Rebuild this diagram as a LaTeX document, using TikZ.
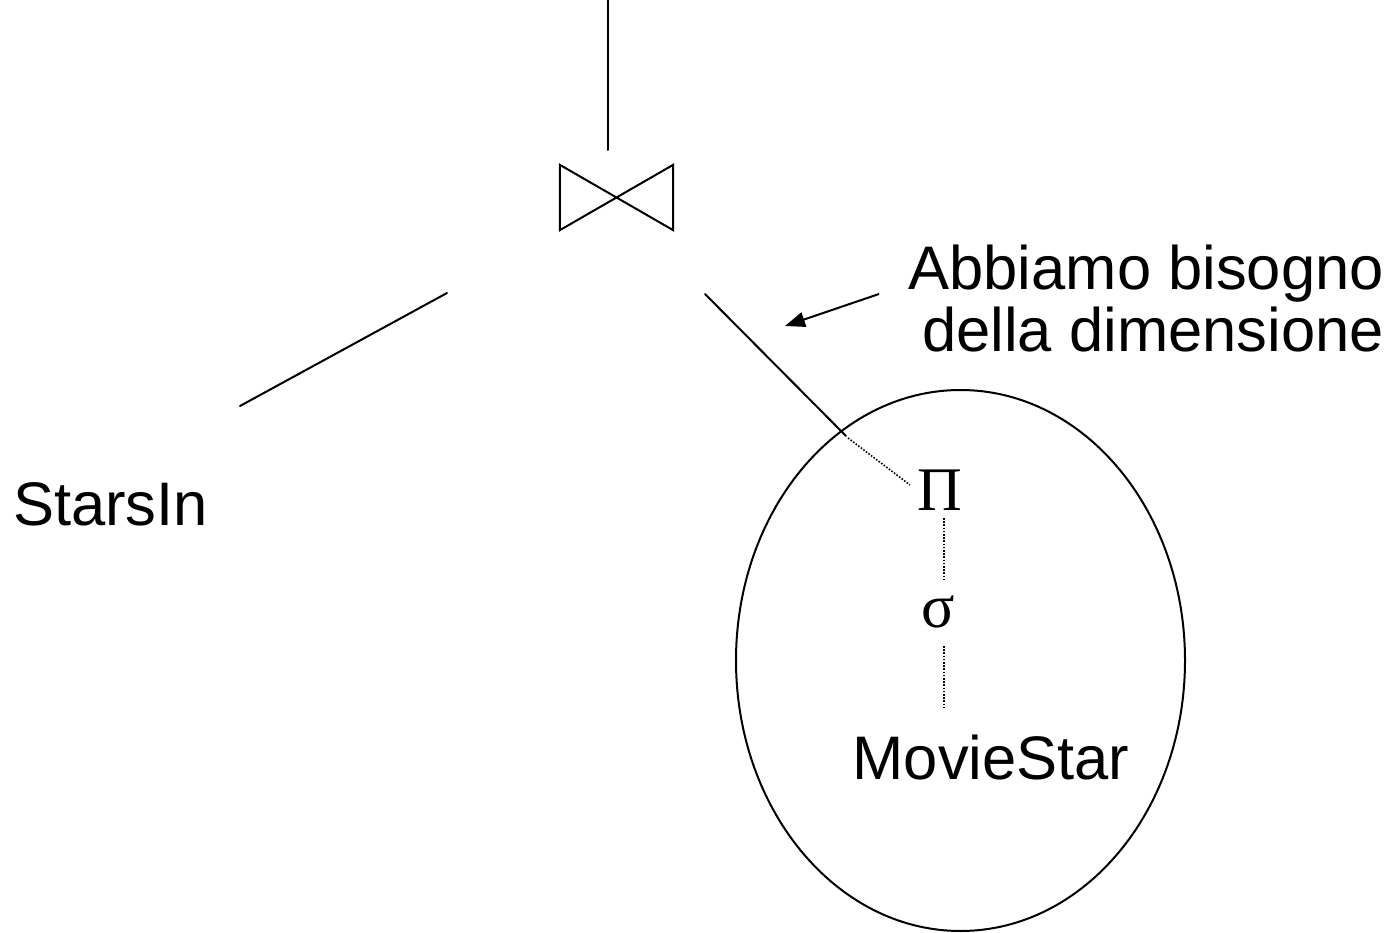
\documentclass[tikz,border=0pt]{standalone}
\usepackage{fontspec}
\setmainfont{Liberation Sans}
\newfontfamily\greekfont{Liberation Serif}
\usetikzlibrary{shapes.geometric,arrows.meta}
\tikzset{
  solidline/.style={line width=2pt, line cap=round},
  dotline/.style={line width=1.6pt, dash pattern=on 1.6pt off 1.6pt},
  label/.style={inner sep=0pt, font=\fontsize{61.5}{62}\selectfont},
  greek/.style={inner sep=0pt, font=\fontsize{62}{62}\greekfont},
}
\begin{document}
\begin{tikzpicture}[x=1pt,y=-1pt]
\useasboundingbox (0,0) rectangle (1398,933);
% join symbol
\node[minimum width=113pt, minimum height=65pt, inner sep=0pt] (join) at (616.5,197.5) {};
\draw[solidline, line join=miter] (join.north west) -- (join.south east) -- (join.north east) -- (join.south west) -- cycle;
\coordinate (topA) at (608,0);
\coordinate (topB) at (608,150);
\draw[solidline] (topA) -- (topB);
% left branch
\coordinate (lA) at (447,293);
\coordinate (lB) at (240,406);
\draw[solidline] (lA) -- (lB);
\node[label, anchor=base west] (starsin) at (13,525) {StarsIn};
% right branch
\node[draw, ellipse, line width=2pt, minimum width=449pt, minimum height=541pt, inner sep=0pt] (grp) at (960.5,660.5) {};
\coordinate (rA) at (705,294);
\coordinate (rB) at (846,436);
\draw[solidline] (rA) -- (rB);
\node[greek, anchor=base] (pi) at (940,510) {Π};
\node[greek, anchor=base] (sigma) at (938,627) {σ};
\node[label, anchor=base] (movie) at (991,779) {MovieStar};
\coordinate (d1a) at (848,438);
\coordinate (d1b) at (910,485);
\coordinate (d2a) at (944,518);
\coordinate (d2b) at (944,580);
\coordinate (d3a) at (944,646);
\coordinate (d3b) at (944,708);
\draw[dotline] (d1a) -- (d1b);
\draw[dotline] (d2a) -- (d2b);
\draw[dotline] (d3a) -- (d3b);
% note
\node[label, anchor=base east] (note1) at (1384,290) {Abbiamo bisogno};
\node[label, anchor=base east] (note2) at (1384,352) {della dimensione};
\coordinate (arA) at (879,294);
\coordinate (arB) at (785,326);
\draw[line width=2pt, -{Triangle[length=20pt,width=15pt]}] (arA) -- (arB);
\end{tikzpicture}
\end{document}
